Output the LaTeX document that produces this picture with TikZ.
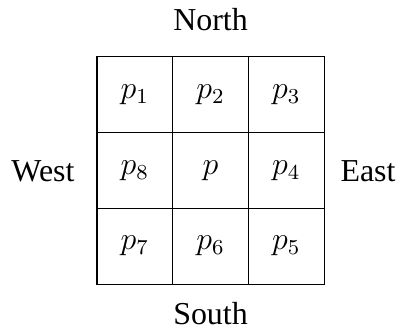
\documentclass[tikz,border=0pt]{standalone}
\usepackage{fontspec}
\setmainfont{Liberation Serif}
\begin{document}
\begin{tikzpicture}[
  cell/.style={draw, line width=0.4pt, minimum size=1cm, inner sep=0pt, anchor=center, font=\fontsize{12}{14}\selectfont},
  dirlabel/.style={inner sep=0pt, font=\fontsize{12}{14}\selectfont}
]
\useasboundingbox (-1.281,-0.674) rectangle (4.069,3.752);
\node[cell] (p1) at (0.5,2.5) {$p_1$};
\node[cell] (p2) at (1.5,2.5) {$p_2$};
\node[cell] (p3) at (2.5,2.5) {$p_3$};
\node[cell] (p8) at (0.5,1.5) {$p_8$};
\node[cell] (p)  at (1.5,1.5) {$p$};
\node[cell] (p4) at (2.5,1.5) {$p_4$};
\node[cell] (p7) at (0.5,0.5) {$p_7$};
\node[cell] (p6) at (1.5,0.5) {$p_6$};
\node[cell] (p5) at (2.5,0.5) {$p_5$};
\node[dirlabel, anchor=base] (north) at (1.5,3.355) {North};
\node[dirlabel, anchor=base] (south) at (1.5,-0.528) {South};
\node[dirlabel, anchor=base east] (west) at (-0.29,1.36) {West};
\node[dirlabel, anchor=base west] (east) at (3.21,1.36) {East};
\end{tikzpicture}
\end{document}
